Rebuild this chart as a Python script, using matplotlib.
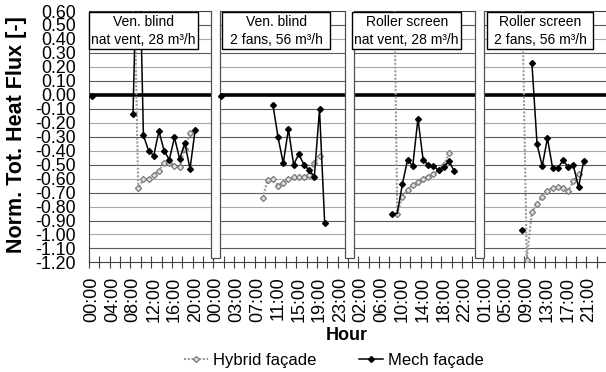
import numpy as np
import matplotlib
matplotlib.use("Agg")
import matplotlib.pyplot as plt
from matplotlib.patches import Rectangle

plt.rcParams['font.family'] = ['Liberation Sans', 'DejaVu Sans']

# --- data (hourly categories, 4 test periods separated by a blank column) ---
panel_titles = ["Ven. blind", "Ven. blind", "Roller screen", "Roller screen"]
panel_subtitles = ["nat vent, 28 m³/h", "2 fans, 56 m³/h",
                   "nat vent, 28 m³/h", "2 fans, 56 m³/h"]

# values at 00:00 of each panel (mech only)
mech_midnight = [-0.01, -0.01, None, None]

# values from 08:00 onwards, one per hour
mech_from8 = [
    [-0.14, 1.45, -0.29, -0.40, -0.435, -0.26, -0.40, -0.465, -0.305, -0.46, -0.345, -0.53, -0.25],
    [None, None, -0.07, -0.305, -0.49, -0.245, -0.50, -0.425, -0.50, -0.54, -0.585, -0.105, -0.92],
    [-0.855, -0.85, -0.64, -0.465, -0.51, -0.17, -0.465, -0.505, -0.51, -0.54, -0.515, -0.475, -0.545],
    [-0.97, None, 0.23, -0.355, -0.51, -0.31, -0.525, -0.525, -0.47, -0.515, -0.505, -0.66, -0.475],
]
hybrid_from8 = [
    [1.3, -0.67, -0.605, -0.605, -0.575, -0.545, -0.485, -0.49, -0.51, -0.52, -0.385, -0.275],
    [-0.74, -0.61, -0.60, -0.65, -0.63, -0.60, -0.59, -0.59, -0.585, -0.575, -0.49, -0.44],
    [2.0, -0.85, -0.73, -0.68, -0.645, -0.625, -0.60, -0.585, -0.57, -0.54, -0.50, -0.42],
    [1.0, -1.18, -0.84, -0.78, -0.73, -0.69, -0.665, -0.66, -0.665, -0.69, -0.62, -0.57],
]

# separator columns (bar series)
sep_pos = [23.9, 49.75, 74.9]
sep_bottom = -1.17
sep_top = 0.7

# --- build category axis ---
hours = ["%02d:00" % h for h in range(24)]
categories = []
for p in range(4):
    categories += hours
    if p < 3:
        categories.append("00:00")
n = len(categories)

mech = np.full(n, np.nan)
hybrid = np.full(n, np.nan)
for p in range(4):
    start = p * 25
    if mech_midnight[p] is not None:
        mech[start] = mech_midnight[p]
    for k, v in enumerate(mech_from8[p]):
        if v is not None:
            mech[start + 8 + k] = v
    for k, v in enumerate(hybrid_from8[p]):
        hybrid[start + 8 + k] = v
x = np.arange(n)

# mech marker at 09:00 of panel 3 sits under the hybrid marker
mech_marks = [i for i in range(n) if i != 2 * 25 + 9]

# --- figure ---
W, H = 606, 372
ax_l, ax_r, ax_t, ax_b = 89, 607, 11, 262.4
fig = plt.figure(figsize=(W / 100, H / 100), dpi=100)
ax = fig.add_axes([ax_l / W, 1 - ax_b / H, (ax_r - ax_l) / W, (ax_b - ax_t) / H])

ax.set_xlim(-0.5, 99.5)
ax.set_ylim(-1.2, 0.6)

# gridlines
yt = np.round(np.arange(-1.2, 0.601, 0.1), 2)
for i, v in enumerate(yt):
    if v in (-1.2, 0.6):
        continue
    col = '#5a5a5a' if i % 2 == 1 else '#a8a8a8'
    ax.axhline(v, color=col, lw=0.8, zorder=0)
ax.axhline(0, color='black', lw=2.6, zorder=2)

ax.bar(sep_pos, sep_top - sep_bottom, bottom=sep_bottom, width=1.66,
       color='white', edgecolor='#505050', lw=0.9, zorder=3)

l_h, = ax.plot(x, hybrid, color='#9a9a9a', lw=1.5, ls=(0, (1, 0.8)),
               marker='D', ms=3.1, mfc='#e0e0e0', mec='#7a7a7a', mew=0.9,
               zorder=4, label='Hybrid façade')
l_m, = ax.plot(x, mech, color='black', lw=1.1, marker='D', ms=3.0,
               markevery=mech_marks, zorder=5, label='Mech façade')

# axes styling
ax.spines['right'].set_visible(False)
for s in ['left', 'bottom', 'top']:
    ax.spines[s].set_color('#404040')
    ax.spines[s].set_linewidth(0.8)

ax.set_yticks(yt)
ax.set_yticklabels(["%.2f" % v if v != 0 else "0.00" for v in yt])
ax.tick_params(axis='y', length=0, pad=9.4, labelsize=12.8)

lab_idx = list(range(0, n, 4))
ax.set_xticks(lab_idx)
ax.set_xticklabels([categories[i] for i in lab_idx], rotation=90)
ax.set_xticks(np.arange(-0.5, 98, 2), minor=True)
ax.tick_params(axis='x', which='major', length=0, pad=10.3, labelsize=13)
ax.tick_params(axis='x', which='minor', direction='inout', length=8,
               width=0.8, color='#404040')


def px2ax(px, py):
    return (px - ax_l) / (ax_r - ax_l), (ax_b - py) / (ax_b - ax_t)


boxes = [(89, 198.3), (222.3, 330), (352.3, 461), (486.7, 593.3)]
by0, by1 = 12.3, 48.5
for (bx0, bx1), t1, t2 in zip(boxes, panel_titles, panel_subtitles):
    x0, y0 = px2ax(bx0, by1)
    x1, y1 = px2ax(bx1, by0)
    ax.add_patch(Rectangle((x0, y0), x1 - x0, y1 - y0, transform=ax.transAxes,
                           fc='white', ec='black', lw=1, zorder=6, clip_on=False))
    cx, cy = px2ax((bx0 + bx1) / 2, 31)
    ax.text(cx, cy, t1 + "\n" + t2, transform=ax.transAxes, ha='center',
            va='center', fontsize=10, linespacing=1.45, zorder=7)

fig.text(17 / W, 1 - 134.5 / H, "Norm. Tot. Heat Flux [-]", rotation=90,
         ha='center', va='center', fontsize=15.5, weight='bold')
fig.text(346.7 / W, 1 - 336 / H, "Hour", ha='center', va='center',
         fontsize=13, weight='bold')

fig.legend(handles=[l_h, l_m], loc='center', bbox_to_anchor=(334 / W, 1 - 360 / H),
           ncol=2, frameon=False, fontsize=12, handlelength=1.4,
           columnspacing=2.6, handletextpad=0.3)

fig.savefig('out.png', dpi=100)
